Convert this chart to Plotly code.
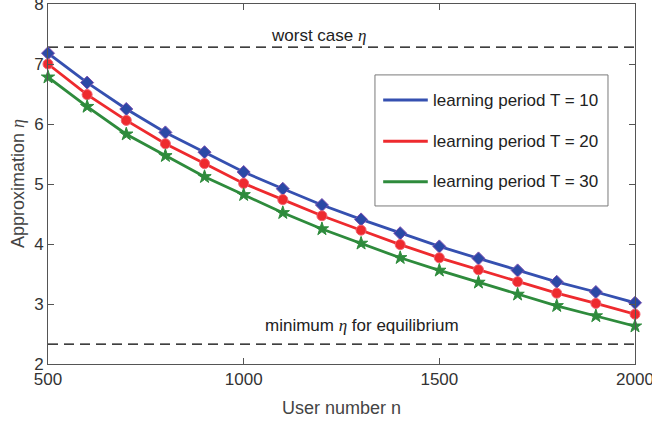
import plotly.graph_objects as go

users = [500, 600, 700, 800, 900, 1000, 1100, 1200, 1300, 1400, 1500, 1600, 1700, 1800, 1900, 2000]
eta_T10 = [7.18, 6.69, 6.25, 5.86, 5.53, 5.20, 4.92, 4.65, 4.41, 4.18, 3.96, 3.76, 3.56, 3.37, 3.20, 3.02]
eta_T20 = [7.00, 6.49, 6.06, 5.67, 5.34, 5.01, 4.74, 4.47, 4.23, 3.99, 3.77, 3.57, 3.37, 3.18, 3.01, 2.83]
eta_T30 = [6.78, 6.29, 5.83, 5.47, 5.12, 4.82, 4.52, 4.25, 4.01, 3.77, 3.56, 3.36, 3.16, 2.97, 2.80, 2.63]
worst_eta = 7.28
min_eta = 2.33
labels = ["learning period T = 10", "learning period T = 20", "learning period T = 30"]
x_ticks = [500, 1000, 1500, 2000]
y_ticks = [2, 3, 4, 5, 6, 7, 8]

FONT = "Liberation Sans, Arial, sans-serif"
ETA = "<span style=\"font-family:'Liberation Serif', serif\"><i>η</i></span>"

fig = go.Figure()

# reference dashed lines
for v in (worst_eta, min_eta):
    fig.add_trace(go.Scatter(x=[users[0], users[-1]], y=[v, v], mode="lines",
                             line=dict(color="black", width=1.3, dash="10px,6px"),
                             showlegend=False, hoverinfo="skip"))

series = [
    (eta_T10, "#3550B0", "diamond", "#2B49A6", "#7A4FB0"),
    (eta_T20, "#EE2A2E", "circle", "#EE2A2E", "#F06070"),
    (eta_T30, "#2E8B3C", "star", "#2E8B3C", "#2E8B3C"),
]
for (vals, col, sym, mfill, mline), lab in zip(series, labels):
    fig.add_trace(go.Scatter(x=users, y=vals, mode="lines+markers", name=lab,
                             line=dict(color=col, width=2.8),
                             marker=dict(symbol=sym, size=10, color=mfill,
                                         line=dict(color=mline, width=1)),
                             showlegend=False, cliponaxis=False))

# annotations
fig.add_annotation(x=1190, y=7.48, text="worst case " + ETA, showarrow=False,
                   font=dict(family=FONT, size=17, color="#222"))
fig.add_annotation(x=1302, y=2.65, text="minimum " + ETA + " for equilibrium", showarrow=False,
                   font=dict(family=FONT, size=17, color="#222"))

# axis titles
fig.add_annotation(xref="paper", yref="paper", x=-0.051, y=0.5, text="Approximation " + ETA,
                   textangle=-90, showarrow=False, xanchor="center", yanchor="middle",
                   font=dict(family=FONT, size=18, color="#444"))
fig.add_annotation(xref="paper", yref="paper", x=0.5, y=-0.122, text="User number n",
                   showarrow=False, xanchor="center", yanchor="middle",
                   font=dict(family=FONT, size=18, color="#444"))

# custom legend
fig.add_shape(type="rect", xref="paper", yref="paper", x0=0.557, x1=0.954, y0=0.439, y1=0.803,
              line=dict(color="#7a7a7a", width=1), fillcolor="white", layer="above")
for (vals, col, *_), lab, yy in zip(series, labels, [0.733, 0.619, 0.506]):
    fig.add_shape(type="line", xref="paper", yref="paper", x0=0.571, x1=0.647, y0=yy, y1=yy,
                  line=dict(color=col, width=3), layer="above")
    fig.add_annotation(xref="paper", yref="paper", x=0.652, y=yy, text=lab, showarrow=False,
                       xanchor="left", yanchor="middle",
                       font=dict(family=FONT, size=17, color="#222"))

axis_common = dict(showgrid=False, zeroline=False, showline=True, linecolor="#555",
                   linewidth=1, mirror="ticks", ticks="inside", ticklen=6, tickcolor="#555",
                   automargin=False, ticklabeloverflow="allow",
                   tickfont=dict(family=FONT, size=17, color="#333"))
fig.update_xaxes(range=[500, 2000], tickvals=x_ticks, **axis_common)
fig.update_yaxes(range=[2, 8], tickvals=y_ticks, **axis_common)

fig.update_layout(width=652, height=423, margin=dict(l=48, r=17, t=4, b=59),
                  plot_bgcolor="white", paper_bgcolor="white", showlegend=False)

fig.write_html("out.html", config={"displayModeBar": False},
               post_script="document.body.style.margin='0px';")
